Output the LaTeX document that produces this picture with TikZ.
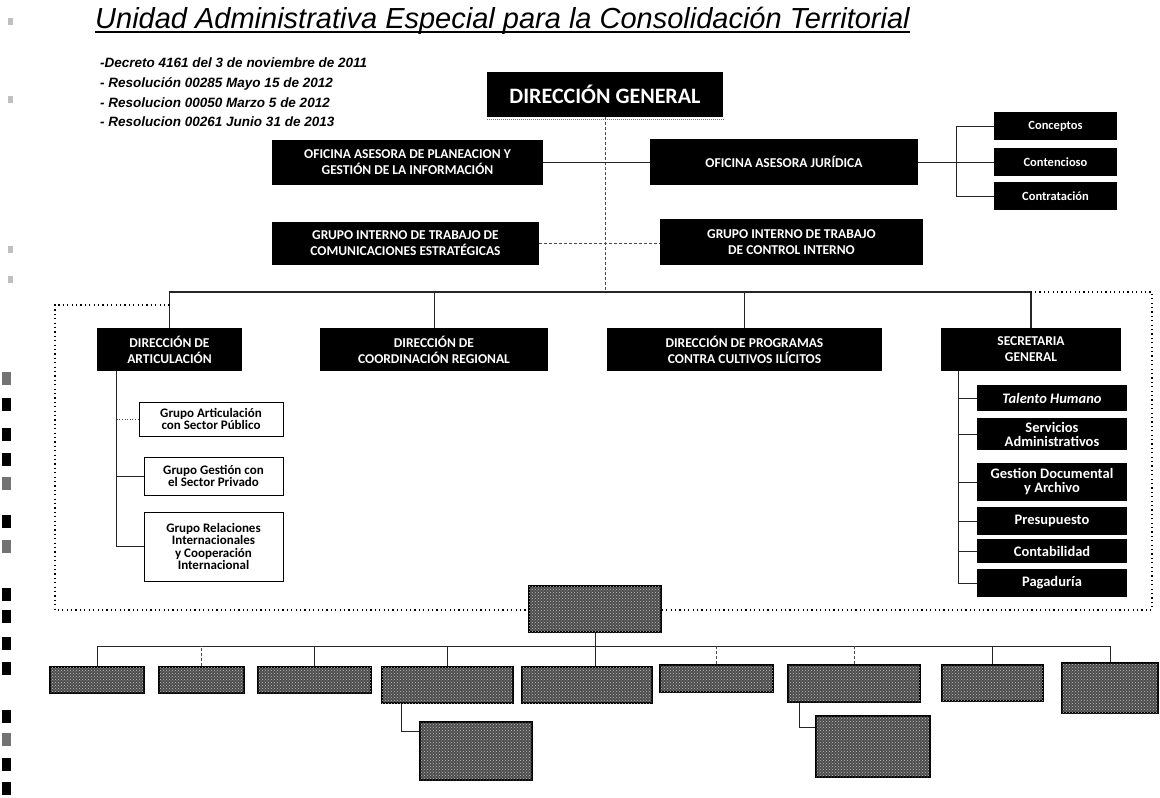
\documentclass[tikz,border=0pt]{standalone}
\usepackage{fontspec}
\setmainfont{Carlito}
\newfontfamily\arialfont{Liberation Sans}
\usetikzlibrary{fit,patterns}

\begin{document}
\begin{tikzpicture}[x=1pt,y=-1pt,
  dbox/.style={fill=black,inner sep=0pt},
  dlab/.style={text=white,inner sep=0pt,align=center,font=\bfseries\fontsize{13.5}{16}\selectfont},
  wbox/.style={draw=black,line width=0.8pt,fill=white,inner sep=0pt},
  wlab/.style={inner sep=0pt,align=center,font=\bfseries\fontsize{13}{12.5}\selectfont},
  slab/.style={text=white,inner sep=0pt,align=center,font=\bfseries\fontsize{14.5}{14}\selectfont},
  gbox/.style={draw=black,line width=1.5pt,fill=black!70,inner sep=0pt,
    postaction={pattern=crosshatch dots,pattern color=black!25}},
  link/.style={line width=1pt,black!85},
  dlink/.style={line width=0.6pt,densely dashed,black!70},
  frame/.style={line width=1.2pt,dash pattern=on 1.2pt off 3.2pt},
  legal/.style={anchor=base west,inner sep=0pt,font=\arialfont\bfseries\itshape\fontsize{13.5}{16}\selectfont},
]
\useasboundingbox (0,0) rectangle (1160,798);

% title and legal references
\node[anchor=base west,inner sep=0pt,font=\arialfont\itshape\fontsize{29}{32}\selectfont] (title) at (95,28) {Unidad Administrativa Especial para la Consolidación Territorial};
\draw[line width=1.6pt] ([yshift=-4pt]title.base west) -- ([yshift=-4pt]title.base east);
\node[legal] (dec1) at (100,67) {-Decreto 4161 del 3 de noviembre de 2011};
\node[legal] (dec2) at (100,87) {- Resolución 00285 Mayo 15 de 2012};
\node[legal] (dec3) at (100,107) {- Resolucion 00050 Marzo 5 de 2012};
\node[legal] (dec4) at (100,126) {- Resolucion 00261 Junio 31 de 2013};

% scan marks on the left edge
\foreach \y/\c in {372/black!55,398/black,428/black,453/black,477/black!55,515/black,540/black!55,
  588/black,610/black,637/black,662/black,710/black,733/black!55,758/black,782/black}
  \fill[\c] (2,\y) rectangle ++(9,13);
\foreach \y in {18,96,246,276}
  \fill[black!25] (8,\y) rectangle ++(5,7);

% top level
\node[dbox,fit={(487,72) (723,117)},label={[dlab,font=\bfseries\fontsize{22}{26}\selectfont]center:DIRECCIÓN GENERAL}] (dirgen) {};
\draw[densely dotted,line width=1pt,black!55] ([yshift=-2pt]dirgen.south west) -- ([yshift=-2pt]dirgen.south east);
\node[dbox,fit={(272,140) (543,185)},label={[dlab]center:{OFICINA ASESORA DE PLANEACION Y\\GESTIÓN DE LA INFORMACIÓN}}] (planea) {};
\node[dbox,fit={(650,139) (918,185)},label={[dlab]center:OFICINA ASESORA JURÍDICA}] (juridica) {};
\node[dbox,fit={(994,112) (1117,140)},label={[slab,font=\bfseries\fontsize{12.5}{14}\selectfont]center:Conceptos}] (conceptos) {};
\node[dbox,fit={(994,148) (1117,176)},label={[slab,font=\bfseries\fontsize{12.5}{14}\selectfont]center:Contencioso}] (contencioso) {};
\node[dbox,fit={(994,182) (1117,210)},label={[slab,font=\bfseries\fontsize{12.5}{14}\selectfont]center:Contratación}] (contrata) {};
\node[dbox,fit={(272,222) (539,265)},label={[dlab]center:{GRUPO INTERNO DE TRABAJO DE\\COMUNICACIONES ESTRATÉGICAS}}] (comunica) {};
\node[dbox,fit={(660,219) (923,265)},label={[dlab]center:{GRUPO INTERNO DE TRABAJO\\DE CONTROL INTERNO}}] (control) {};

\coordinate (bus) at (605,292);
\path (juridica.east) ++(38,0) coordinate (jbr);
\draw[dlink] (dirgen.south) -- (bus);
\draw[link] (planea.east) -- (planea.east -| juridica.west);
\draw[dlink] (comunica.east) -- (comunica.east -| control.west);
\draw[link] (juridica.east) -- (jbr);
\draw[link] (conceptos.west) -| (jbr) |- (contrata.west);
\draw[link] (jbr |- contencioso.west) -- (contencioso.west);

% second level
\node[dbox,fit={(97,328) (242,371)},label={[dlab]center:{DIRECCIÓN DE\\ARTICULACIÓN}}] (dirart) {};
\node[dbox,fit={(320,328) (548,371)},label={[dlab]center:{DIRECCIÓN DE\\COORDINACIÓN REGIONAL}}] (dircoord) {};
\node[dbox,fit={(607,328) (882,371)},label={[dlab]center:{DIRECCIÓN DE PROGRAMAS\\CONTRA CULTIVOS ILÍCITOS}}] (dirprog) {};
\node[dbox,fit={(941,328) (1121,371)},label={[dlab]center:{SECRETARIA\\GENERAL}}] (secgen) {};

\draw[link,line width=1.3pt] (dirart.north) |- (bus) -| (secgen.north);
\draw[link] (dircoord.north) -- (dircoord.north |- bus);
\draw[link] (dirprog.north) -- (dirprog.north |- bus);

% groups of the Dirección de Articulación
\node[wbox,fit={(139,402) (283,436)},label={[wlab]center:{Grupo Articulación\\con Sector Público}}] (gpub) {};
\node[wbox,fit={(144,457) (283,495)},label={[wlab]center:{Grupo Gestión con\\el Sector Privado}}] (gpriv) {};
\node[wbox,fit={(144,512) (283,581)},label={[wlab]center:{Grupo Relaciones\\Internacionales\\y Cooperación\\Internacional}}] (grel) {};
\coordinate (artv) at ([xshift=20pt]dirart.south west);
\draw[link,line width=0.7pt] (artv) |- (grel.west);
\draw[link,line width=0.7pt] (artv |- gpriv.west) -- (gpriv.west);
\draw[dlink,dotted] (artv |- gpub.west) -- (gpub.west);

% units of the Secretaría General
\node[dbox,fit={(977,385) (1127,411)},label={[slab,font=\bfseries\itshape\fontsize{14.5}{14}\selectfont]center:Talento Humano}] (talento) {};
\node[dbox,fit={(977,418) (1127,450)},label={[slab]center:{Servicios\\Administrativos}}] (servicios) {};
\node[dbox,fit={(977,463) (1127,501)},label={[slab]center:{Gestion Documental\\y Archivo}}] (gesdoc) {};
\node[dbox,fit={(977,507) (1127,535)},label={[slab]center:Presupuesto}] (presup) {};
\node[dbox,fit={(977,539) (1127,563)},label={[slab]center:Contabilidad}] (contab) {};
\node[dbox,fit={(977,569) (1127,597)},label={[slab]center:Pagaduría}] (pagad) {};
\coordinate (secv) at ([xshift=18pt]secgen.south west);
\draw[link] (secv) |- (pagad.west);
\foreach \n in {talento,servicios,gesdoc,presup,contab}
  \draw[link] (secv |- \n.west) -- (\n.west);

% lower block
\node[gbox,fit={(529,586) (661,632)}] (bcenter) {};
\coordinate (frtop) at (55,305);
\coordinate (frbot) at (55,610);
\coordinate (frright) at (1152,610);
\draw[frame] (dirart.north |- frtop) -- (frtop) -- (frbot) -- (bcenter.west |- frbot);
\draw[frame] (bcenter.east |- frbot) -- (frright) -- (frright |- bus) -- (secgen.north |- bus);

\node[gbox,fit={(50,667) (144,693)}] (b1) {};
\node[gbox,fit={(159,667) (244,693)}] (b2) {};
\node[gbox,fit={(258,667) (371,693)}] (b3) {};
\node[gbox,fit={(382,667) (513,703)}] (b4) {};
\node[gbox,fit={(522,667) (652,703)}] (b5) {};
\node[gbox,fit={(660,665) (773,692)}] (b6) {};
\node[gbox,fit={(788,665) (920,702)}] (b7) {};
\node[gbox,fit={(942,665) (1043,701)}] (b8) {};
\node[gbox,fit={(1062,663) (1158,713)}] (b9) {};
\node[gbox,fit={(420,722) (532,780)}] (bsub4) {};
\node[gbox,fit={(816,716) (930,777)}] (bsub7) {};

\coordinate (bbus) at (0,646);
\draw[link,line width=0.8pt] (b1.north) |- (bbus -| b9.north) -- (b9.north);
\draw[link,line width=0.8pt] (bcenter.south) -- (bcenter.south |- b5.north);
\foreach \n in {b3,b4,b8}
  \draw[link,line width=0.8pt] (\n.north) -- (\n.north |- bbus);
\foreach \n in {b2,b6,b7}
  \draw[dlink] (\n.north) -- (\n.north |- bbus);
\draw[link,line width=0.8pt] ([xshift=20pt]b4.south west) |- ([yshift=-10pt]bsub4.north west);
\draw[link,line width=0.8pt] ([xshift=12pt]b7.south west) |- ([yshift=-12pt]bsub7.north west);
\end{tikzpicture}
\end{document}
